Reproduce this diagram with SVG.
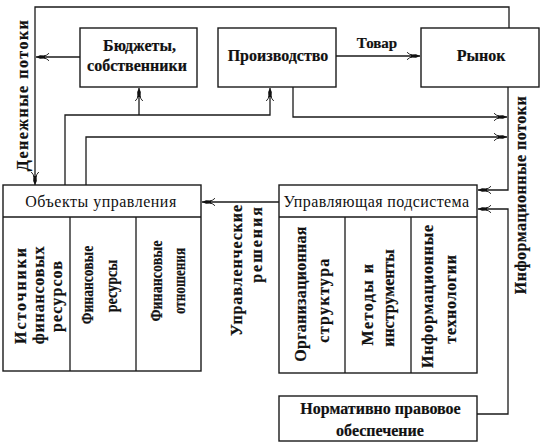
<svg xmlns="http://www.w3.org/2000/svg" width="545" height="446" viewBox="0 0 545 446">
<style>
.box{fill:#fff;stroke:#1a1a1a;stroke-width:1.4}
.ln{fill:none;stroke:#1a1a1a;stroke-width:1.3}
text{font-family:'Liberation Serif','Times New Roman',serif;fill:#111;text-anchor:middle}
.t{font-size:16px;font-weight:bold;stroke:#111;stroke-width:0.2}
.h{font-size:16px;font-weight:normal}
</style>
<defs>
<marker id="ar" markerUnits="userSpaceOnUse" markerWidth="18" markerHeight="10" viewBox="-14 -5 15 10" refX="0" refY="0" orient="auto">
<path d="M0,0 L-4,-1.8 L-9,-1.6 L-9,1.6 L-4,1.8 Z" fill="#111"/>
<path d="M-8,-1 Q-11,-1.5 -13,-3.8 M-8,1 Q-11,1.5 -13,3.8" fill="none" stroke="#111" stroke-width="0.9"/>
</marker>
</defs>
<rect width="545" height="446" fill="#fff"/>

<g id="connectors">
<path class="ln" d="M509,28 V7 H35 V185" marker-end="url(#ar)"/>
<path class="ln" d="M80,57 H36" marker-end="url(#ar)"/>
<path class="ln" d="M336,56 H420" marker-end="url(#ar)"/>
<path class="ln" d="M65,185 V115 H270 V88" marker-end="url(#ar)"/>
<path class="ln" d="M139,115 V88" marker-end="url(#ar)"/>
<path class="ln" d="M86,185 V137 H507" marker-end="url(#ar)"/>
<path class="ln" d="M293,87 V117 H507" marker-end="url(#ar)"/>
<path class="ln" d="M508,87 V190 H478" marker-end="url(#ar)"/>
<path class="ln" d="M477,414 H508 V209 H478" marker-end="url(#ar)"/>
<path class="ln" d="M279,202 H202" marker-end="url(#ar)"/>
<text class="t" x="377" y="48" style="font-size:15px">Товар</text>
<text class="t" transform="translate(28,95) rotate(-90)" letter-spacing="1.5">Денежные потоки</text>
<text class="t" transform="translate(526,195) rotate(-90)" letter-spacing="0.5">Информационные потоки</text>
<text class="t" transform="translate(242,270) rotate(-90)" letter-spacing="0.9">Управленческие</text>
<text class="t" transform="translate(262,244) rotate(-90)" letter-spacing="2">решения</text>
</g>

<g id="budgets">
<rect class="box" x="80" y="28" width="117" height="59"/>
<text class="t" x="139.5" y="51">Бюджеты,</text>
<text class="t" x="137" y="71">собственники</text>
</g>

<g id="production">
<rect class="box" x="218" y="28" width="118" height="59"/>
<text class="t" x="278" y="61">Производство</text>
</g>

<g id="market">
<rect class="box" x="421" y="28" width="118" height="59"/>
<text class="t" x="481" y="61">Рынок</text>
</g>

<g id="objects">
<rect class="box" x="3" y="185" width="198" height="186"/>
<path class="ln" d="M3,217 H201 M70,217 V371 M136,217 V371"/>
<text class="h" x="101" y="207" letter-spacing="0.5">Объекты управления</text>
<text class="t" transform="translate(26,295) rotate(-90)" letter-spacing="1.9">Источники</text>
<text class="t" transform="translate(44,295) rotate(-90)" letter-spacing="0.8">финансовых</text>
<text class="t" transform="translate(62,296) rotate(-90)" letter-spacing="1.1">ресурсов</text>
<text class="t" transform="translate(93,285) rotate(-90) scale(0.85,1)">Финансовые</text>
<text class="t" transform="translate(117,286) rotate(-90) scale(0.88,1)">ресурсы</text>
<text class="t" transform="translate(162,281) rotate(-90) scale(0.88,1)">Финансовые</text>
<text class="t" transform="translate(185,281) rotate(-90) scale(0.82,1)">отношения</text>
</g>

<g id="control">
<rect class="box" x="279" y="185" width="198" height="188"/>
<path class="ln" d="M279,217 H477 M345,217 V373 M411,217 V373"/>
<text class="h" x="376.5" y="207" letter-spacing="0.4">Управляющая подсистема</text>
<text class="t" transform="translate(306,294) rotate(-90)" letter-spacing="0.3">Организационная</text>
<text class="t" transform="translate(329,300) rotate(-90)" letter-spacing="1.3">структура</text>
<text class="t" transform="translate(373,304) rotate(-90)" letter-spacing="1.5">Методы и</text>
<text class="t" transform="translate(394,298) rotate(-90)">инструменты</text>
<text class="t" transform="translate(433,296) rotate(-90)" letter-spacing="0.8">Информационные</text>
<text class="t" transform="translate(456,299) rotate(-90)" letter-spacing="0.7">технологии</text>
</g>

<g id="normative">
<rect class="box" x="279" y="396" width="198" height="45"/>
<text class="t" x="380.5" y="414">Нормативно правовое</text>
<text class="t" x="380" y="436">обеспечение</text>
</g>
</svg>
